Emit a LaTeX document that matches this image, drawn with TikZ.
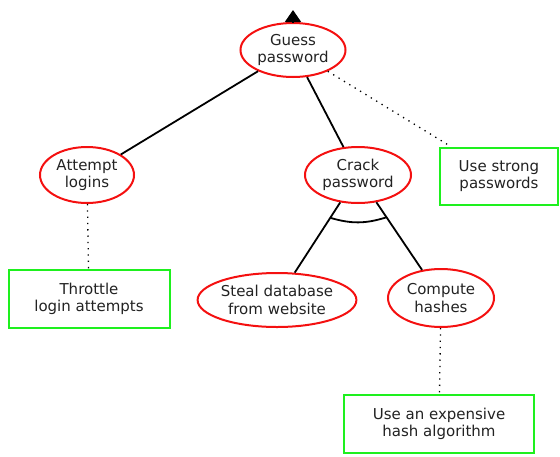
\documentclass[tikz,border=0pt]{standalone}
\usepackage{fontspec}
\setmainfont{DejaVu Sans}
\usepackage{xcolor}
\usepackage{tikz}
\usetikzlibrary{calc,arrows.meta,positioning,shapes.geometric}
\definecolor{attackred}{HTML}{F41010}
\definecolor{defgreen}{HTML}{1EF01E}
\definecolor{inkx}{HTML}{222222}
\tikzset{
  goal/.style={ellipse,draw=attackred,line width=2pt,align=center,inner sep=0pt,text=inkx,font=\fontsize{15}{17.5}\selectfont},
  defense/.style={rectangle,draw=defgreen,line width=2pt,align=center,inner sep=0pt,text=inkx,font=\fontsize{15}{17.5}\selectfont},
  ln/.style={line width=1.8pt,black},
  dotln/.style={line width=1.3pt,black,dash pattern=on 1.3pt off 5pt}
}
\begin{document}
\begin{tikzpicture}[x=1pt,y=-1pt]
\useasboundingbox (0,0) rectangle (560,456);
\node[goal,minimum width=105pt,minimum height=54pt] (guess) at (293,50) {Guess\\password};
\node[goal,minimum width=94pt,minimum height=56pt] (attempt) at (87,175) {Attempt\\logins};
\node[goal,minimum width=106pt,minimum height=56pt] (crack) at (358,175) {Crack\\password};
\node[defense,minimum width=118pt,minimum height=57pt] (strong) at (499,176) {Use strong\\passwords};
\node[defense,minimum width=161pt,minimum height=58pt] (throttle) at (89,299) {Throttle\\login attempts};
\node[goal,minimum width=158pt,minimum height=54pt] (steal) at (277,300) {Steal database\\from website};
\node[goal,minimum width=106pt,minimum height=58pt] (compute) at (441,298) {Compute\\hashes};
\node[defense,minimum width=190pt,minimum height=58pt] (expensive) at (439,424) {Use an expensive\\hash algorithm};
\coordinate (root) at (293,10);
\draw[ln,-{Triangle[length=12pt,width=16pt]}] (guess.north) -- (root);
\draw[ln] (guess) -- (attempt);
\draw[ln] (guess) -- (crack);
\draw[dotln] (guess) -- (strong);
\draw[dotln] (attempt) -- (throttle);
\draw[ln] (crack) -- (steal);
\draw[ln] (crack) -- (compute);
\draw[dotln] (compute) -- (expensive);
\coordinate (andL) at ($(crack)!51pt!(steal)$);
\coordinate (andR) at ($(crack)!51pt!(compute)$);
\draw[ln] (andL) to[bend right=17] (andR);
\end{tikzpicture}
\end{document}
